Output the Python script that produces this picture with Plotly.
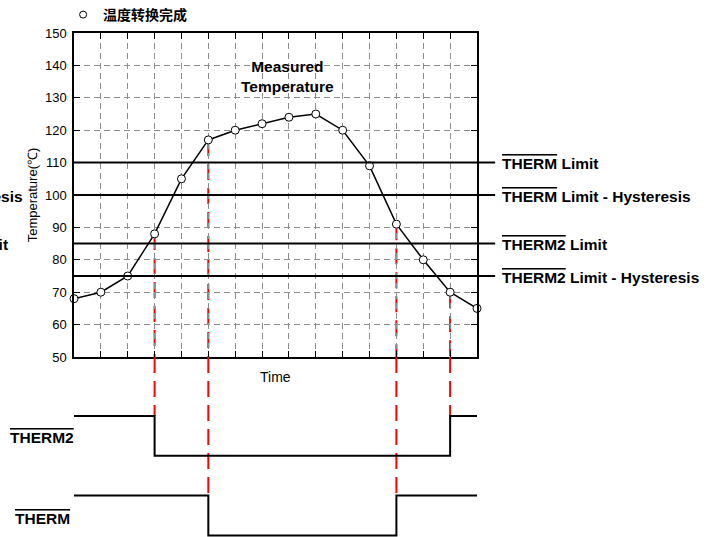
import plotly.graph_objects as go

# ---------------- data ----------------
time_steps = list(range(16))
temperatures = [68, 70, 75, 88, 105, 117, 120, 122, 124, 125, 120, 109, 91, 80, 70, 65]
therm_limit = 110
therm_hysteresis = 100
therm2_limit = 85
therm2_hysteresis = 75
y_ticks = [50, 60, 70, 80, 90, 100, 110, 120, 130, 140, 150]
legend_name = "温度转换完成"
x_title = "Time"
y_title = "Temperature(℃)"
curve_label = "Measured<br>Temperature"
limit_labels = [
    (therm_limit, "THERM", " Limit"),
    (therm_hysteresis, "THERM", " Limit - Hysteresis"),
    (therm2_limit, "THERM2", " Limit"),
    (therm2_hysteresis, "THERM2", " Limit - Hysteresis"),
]


def comparator(values, high, low):
    """Active-low output with hysteresis."""
    state, out = 1, []
    for v in values:
        if v >= high:
            state = 0
        elif v < low:
            state = 1
        out.append(state)
    return out


therm_state = comparator(temperatures, therm_limit, therm_hysteresis)
therm2_state = comparator(temperatures, therm2_limit, therm2_hysteresis)

FONT = "Liberation Sans, Arial, sans-serif"
CJK = "Noto Sans CJK SC, sans-serif"
BOLD_SIZE = 15.5


def ov(s):
    return '<span style="text-decoration:overline">' + s + '</span>'


# rows for the digital traces (on y2)
THERM_ROW = 0
THERM2_ROW = 2
Y2_RANGE = [-0.04, 4.48]
T_MIN, T_MAX = 50, 150

fig = go.Figure()

# temperature curve
fig.add_trace(go.Scatter(
    x=time_steps, y=temperatures, mode="lines+markers",
    line=dict(color="black", width=1.5),
    marker=dict(symbol="circle", size=8, color="white",
                line=dict(color="black", width=1)),
    showlegend=False, xaxis="x", yaxis="y", cliponaxis=False,
))
# legend item
fig.add_trace(go.Scatter(
    x=[None], y=[None], mode="markers", name="<b>" + legend_name + "</b>",
    marker=dict(symbol="circle-open", size=7, color="black", line=dict(width=1)),
    showlegend=True, xaxis="x", yaxis="y",
))

# digital signals
fig.add_trace(go.Scatter(
    x=time_steps, y=[THERM2_ROW + s for s in therm2_state], mode="lines",
    line=dict(color="black", width=2, shape="hv"), showlegend=False,
    xaxis="x2", yaxis="y2", cliponaxis=False,
))
fig.add_trace(go.Scatter(
    x=time_steps, y=[THERM_ROW + s for s in therm_state], mode="lines",
    line=dict(color="black", width=2, shape="hv"), showlegend=False,
    xaxis="x2", yaxis="y2", cliponaxis=False,
))

shapes = []
# limit lines
for val, _, _ in limit_labels:
    shapes.append(dict(type="line", xref="paper", yref="y", x0=0, x1=1.045,
                       y0=val, y1=val, line=dict(color="black", width=2),
                       layer="above"))

# red dashed transition markers
red = dict(color="#ff0000", width=2, dash="16px,8px")
for state, row in ((therm2_state, THERM2_ROW), (therm_state, THERM_ROW)):
    for i in range(1, len(state)):
        if state[i] != state[i - 1]:
            shapes.append(dict(type="line", xref="x", yref="y", x0=time_steps[i], x1=time_steps[i],
                               y0=temperatures[i], y1=T_MIN, line=red, layer="below"))
            shapes.append(dict(type="line", xref="x2", yref="y2", x0=time_steps[i], x1=time_steps[i],
                               y0=Y2_RANGE[1], y1=row + 1, line=red, layer="below"))

bold_font = dict(family=FONT, size=BOLD_SIZE, color="black")
annotations = []
for val, sig, rest in limit_labels:
    annotations.append(dict(xref="paper", yref="y", x=1.057, y=val, xanchor="left",
                            yanchor="middle", showarrow=False, yshift=-1,
                            text="<b>" + ov(sig) + rest + "</b>", font=bold_font))
# clipped labels at the far left
annotations.append(dict(xref="paper", yref="y", x=-0.122, y=therm_hysteresis, xanchor="right",
                        yanchor="middle", showarrow=False, yshift=-1,
                        text="<b>" + ov("THERM") + " Limit - Hysteresis</b>", font=bold_font))
annotations.append(dict(xref="paper", yref="y", x=-0.158, y=therm2_limit, xanchor="right",
                        yanchor="middle", showarrow=False, yshift=-1,
                        text="<b>" + ov("THERM2") + " Limit</b>", font=bold_font))
# signal names
annotations.append(dict(xref="paper", yref="y2", x=-0.079, y=THERM2_ROW + 0.5, xanchor="center",
                        yanchor="middle", showarrow=False, yshift=-2,
                        text="<b>" + ov("THERM2") + "</b>", font=bold_font))
annotations.append(dict(xref="paper", yref="y2", x=-0.079, y=THERM_ROW + 0.5, xanchor="center",
                        yanchor="middle", showarrow=False, yshift=-3,
                        text="<b>" + ov("THERM") + "</b>", font=bold_font))
# curve label
annotations.append(dict(xref="x", yref="y", x=7.95, y=136.5, showarrow=False,
                        text="<b>" + curve_label + "</b>", font=bold_font))
# x title
annotations.append(dict(xref="x", yref="paper", x=7.5, y=180 / 504, yanchor="top", yshift=-10,
                        showarrow=False, text=x_title,
                        font=dict(family=FONT, size=14, color="black")))

d0 = 180 / 504

fig.update_layout(
    width=712, height=537,
    margin=dict(l=74, r=235, t=33, b=0, autoexpand=False),
    plot_bgcolor="white", paper_bgcolor="white",
    font=dict(family=FONT, size=13, color="black"),
    xaxis=dict(domain=[0, 1], anchor="y", range=[0, 15], tickvals=time_steps,
               showticklabels=False, ticks="inside", ticklen=6, tickcolor="black",
               showline=True, linecolor="black", linewidth=1.5, mirror="ticks",
               showgrid=True, gridcolor="#8c8c8c", gridwidth=1, griddash="6px,4px",
               zeroline=False, automargin=False),
    yaxis=dict(domain=[d0, 1], anchor="x", range=[T_MIN, T_MAX], tickvals=y_ticks,
               ticks="inside", ticklen=6, tickcolor="black", ticklabelstandoff=3,
               showline=True, linecolor="black", linewidth=1.5, mirror="ticks",
               showgrid=True, gridcolor="#8c8c8c", gridwidth=1, griddash="6px,4px",
               zeroline=False, tickfont=dict(family=FONT, size=13), automargin=False,
               title=dict(text=y_title, standoff=4, font=dict(family=FONT, size=13))),
    xaxis2=dict(domain=[0, 1], anchor="y2", range=[0, 15], visible=False),
    yaxis2=dict(domain=[0, d0], anchor="x2", range=Y2_RANGE, visible=False),
    legend=dict(x=-0.027, y=1.004, xanchor="left", yanchor="bottom", itemwidth=30,
                font=dict(family=CJK, size=14, color="black"), bgcolor="rgba(0,0,0,0)"),
    showlegend=True,
    shapes=shapes,
    annotations=annotations,
)

fig.write_html("out.html", post_script="document.body.style.margin='0';",
               config={"displayModeBar": False})
